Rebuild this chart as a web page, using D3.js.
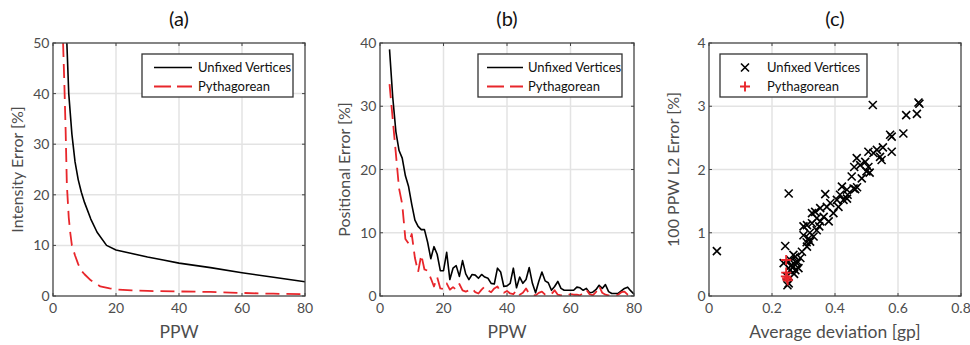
<!DOCTYPE html>
<html lang="en">
<head>
<meta charset="utf-8">
<script src="https://d3js.org/d3.v7.min.js"></script>
<style>
  body { margin: 0; background: #fff; }
  svg text { font-family: Lato, "Open Sans", sans-serif; }
</style>
</head>
<body>
<svg id="chart" width="970" height="345"></svg>
<script>
// ---- data ----
// (a) intensity error vs PPW
const aUnfixedX = [4.4, 5, 6, 7, 8, 9, 10, 12, 14, 17, 20, 25, 30, 35, 40, 50, 60, 70, 80];
const aUnfixedY = [50, 40, 32, 26.5, 23, 20.5, 18.5, 15.2, 12.6, 10, 9.1, 8.4, 7.7, 7.1, 6.5, 5.6, 4.6, 3.7, 2.8];
const aPythX = [3.2, 3.6, 4, 4.4, 5, 5.5, 6, 7, 8, 9, 10, 12, 15, 18, 20, 25, 30, 40, 50, 60, 70, 80];
const aPythY = [50, 42, 33, 22, 15.5, 12.4, 10, 8, 6.3, 5, 4.3, 3.1, 1.9, 1.5, 1.3, 1.1, 1.0, 0.9, 0.8, 0.6, 0.45, 0.35];

// (b) positional error, PPW 3..80
const bPPW = d3.range(3, 81);
const bUnfixed = [39, 31.5, 26, 23, 21.8, 19, 17.3, 14.5, 12, 11, 10.5, 10.5, 8.5, 5.9, 7.8, 6.6, 4, 4,
  6.9, 2.6, 4.4, 4.8, 3.1, 5.6, 3.5, 2.6, 3.4, 3.3, 2.8, 3.4, 3.0, 2.8, 2.0, 1.9, 4.4, 3.8, 1.5, 1.6,
  2.0, 4.4, 1.3, 3.0, 2.0, 2.6, 4.5, 2.0, 0.5, 2.3, 3.8, 2.4, 2.1, 0.9, 1.5, 2.3, 1.2, 0.9, 0.9, 0.9,
  0.9, 1.4, 1.3, 0.9, 1.2, 0.5, 0.6, 1.0, 1.7, 1.2, 1.8, 0.7, 0.4, 0.4, 0.4, 0.8, 1.2, 1.4, 0.8, 0.3];
const bPyth = [33.5, 28, 22.5, 17, 14.5, 9, 8.3, 9.8, 6, 3.8, 6.5, 4.2, 4, 2.8, 1.5, 3, 1.2, 1.1,
  2.0, 1.0, 1.4, 1.0, 1.9, 0.9, 0.7, 0.9, 1.2, 0.6, 0.4, 1.0, 1.5, 0.9, 0.6, 1.2, 1.5, 0.6, 0.5, 0.8,
  0.4, 0.3, 0.9, 0.2, 0.5, 1.2, 0.3, 0.2, 0.1, 0.5, 0.7, 0.2, 0.1, 0.3, 0.9, 0.2, 0.1, 0.2, 0.1, 0.3,
  0.2, 0.2, 0.1, 0.5, 1.0, 0.3, 0.1, 0.6, 1.6, 0.5, 0.2, 0.1, 0.1, 0.1, 0.2, 0.6, 0.7, 0.2, 0.1, 0.1];

// (c) 100 PPW L2 error vs average deviation
const cUnfixedDev = [0.025, 0.253, 0.242, 0.52, 0.665, 0.668, 0.66, 0.626, 0.617, 0.575, 0.58, 0.58,
  0.548, 0.543, 0.552, 0.533, 0.506, 0.522, 0.5, 0.506, 0.496, 0.48, 0.469, 0.461, 0.485, 0.453, 0.459,
  0.438, 0.464, 0.422, 0.416, 0.406, 0.427, 0.411, 0.438, 0.369, 0.385, 0.374, 0.364, 0.38, 0.353, 0.342,
  0.327, 0.327, 0.311, 0.30, 0.30, 0.316, 0.321, 0.332, 0.342, 0.311, 0.295, 0.29, 0.279, 0.268, 0.258,
  0.274, 0.284, 0.258, 0.247, 0.253, 0.249, 0.237, 0.263, 0.274, 0.353, 0.337, 0.395, 0.51, 0.47, 0.44,
  0.265, 0.27, 0.26, 0.28, 0.31, 0.32, 0.35];
const cUnfixedErr = [0.71, 1.62, 0.79, 3.02, 3.06, 3.04, 2.88, 2.86, 2.57, 2.55, 2.52, 2.28,
  2.15, 2.2, 2.35, 2.31, 2.28, 2.26, 1.97, 2.04, 2.12, 2.07, 2.18, 2.04, 1.86, 1.89, 1.70,
  1.68, 1.69, 1.73, 1.60, 1.52, 1.52, 1.41, 1.54, 1.61, 1.47, 1.41, 1.25, 1.18, 1.18, 1.23,
  1.31, 1.15, 1.12, 1.10, 0.96, 0.91, 0.86, 0.94, 1.04, 0.78, 0.70, 0.60, 0.52, 0.65, 0.57,
  0.41, 0.44, 0.41, 0.31, 0.20, 0.17, 0.52, 0.49, 0.62, 1.39, 1.33, 1.31, 1.95, 1.72, 1.6,
  0.45, 0.35, 0.48, 0.55, 0.85, 1.0, 1.1];
const cPythDev = [0.245, 0.245, 0.248, 0.25, 0.244];
const cPythErr = [0.57, 0.37, 0.28, 0.25, 0.31];

const titles = ["(a)", "(b)", "(c)"];
const yLabels = ["Intensity Error [%]", "Positional Error [%]", "100 PPW L2 Error [%]"];
const xLabels = ["PPW", "PPW", "Average deviation [gp]"];
const legendNames = ["Unfixed Vertices", "Pythagorean"];

const RED = "#e8262b";
const svg = d3.select("#chart");

const panels = [
  { left: 53, right: 305, xDom: [0, 80], yDom: [0, 50], xt: [0, 20, 40, 60, 80], yt: [0, 10, 20, 30, 40, 50], fmt: d3.format("d") },
  { left: 380, right: 634, xDom: [0, 80], yDom: [0, 40], xt: [0, 20, 40, 60, 80], yt: [0, 10, 20, 30, 40], fmt: d3.format("d") },
  { left: 709, right: 961, xDom: [0, 0.8], yDom: [0, 4], xt: [0, 0.2, 0.4, 0.6, 0.8], yt: [0, 1, 2, 3, 4], fmt: d => d === 0 ? "0" : d3.format("")(d) }
];
const plotTop = 43, plotBottom = 296;

panels.forEach((p, i) => {
  p.x = d3.scaleLinear().domain(p.xDom).range([p.left, p.right]);
  p.y = d3.scaleLinear().domain(p.yDom).range([plotBottom, plotTop]);
  const g = svg.append("g");
  p.g = g;

  // grid
  g.append("g").selectAll("line").data(p.xt.slice(1, -1)).join("line")
    .attr("x1", d => p.x(d)).attr("x2", d => p.x(d)).attr("y1", plotTop).attr("y2", plotBottom)
    .attr("stroke", "#e3e3e3").attr("stroke-width", 1.5);
  g.append("g").selectAll("line").data(p.yt.slice(1, -1)).join("line")
    .attr("y1", d => p.y(d)).attr("y2", d => p.y(d)).attr("x1", p.left).attr("x2", p.right)
    .attr("stroke", "#e3e3e3").attr("stroke-width", 1.5);

  // tick labels
  g.append("g").selectAll("text").data(p.xt).join("text")
    .attr("x", d => p.x(d)).attr("y", 312.5).attr("text-anchor", "middle")
    .attr("font-size", 14).attr("fill", "#4d4d4d").text(p.fmt);
  g.append("g").selectAll("text").data(p.yt).join("text")
    .attr("x", p.left - 3.5).attr("y", d => p.y(d) + 5).attr("text-anchor", "end")
    .attr("font-size", 14).attr("fill", "#4d4d4d").text(p.fmt);

  // labels
  svg.append("text").attr("x", (p.left + p.right) / 2).attr("y", 26).attr("text-anchor", "middle")
    .attr("font-size", 20).attr("fill", "#111").text(titles[i]);
  svg.append("text").attr("x", (p.left + p.right) / 2).attr("y", 337.5).attr("text-anchor", "middle")
    .attr("font-size", 17.5).attr("fill", "#4d4d4d").text(xLabels[i]);
  svg.append("text").attr("transform", `translate(${p.left - 30},${(plotTop + plotBottom) / 2}) rotate(-90)`)
    .attr("text-anchor", "middle").attr("font-size", 16).attr("fill", "#4d4d4d").text(yLabels[i]);
});

function frame(p) {
  const g = p.g;
  const tl = 3;
  const t = g.append("g").attr("stroke", "#444").attr("stroke-width", 1);
  p.xt.forEach(d => {
    t.append("line").attr("x1", p.x(d)).attr("x2", p.x(d)).attr("y1", plotBottom).attr("y2", plotBottom - tl);
    t.append("line").attr("x1", p.x(d)).attr("x2", p.x(d)).attr("y1", plotTop).attr("y2", plotTop + tl);
  });
  p.yt.forEach(d => {
    t.append("line").attr("y1", p.y(d)).attr("y2", p.y(d)).attr("x1", p.left).attr("x2", p.left + tl);
    t.append("line").attr("y1", p.y(d)).attr("y2", p.y(d)).attr("x1", p.right).attr("x2", p.right - tl);
  });
  g.append("rect").attr("x", p.left).attr("y", plotTop).attr("width", p.right - p.left).attr("height", plotBottom - plotTop)
    .attr("fill", "none").attr("stroke", "#444").attr("stroke-width", 1.3);
}

// clip paths
panels.forEach((p, i) => {
  svg.append("clipPath").attr("id", "clip" + i).append("rect")
    .attr("x", p.left).attr("y", plotTop).attr("width", p.right - p.left).attr("height", plotBottom - plotTop);
});

function drawLine(p, i, xs, ys, color, dash) {
  const line = d3.line().x(d => p.x(d[0])).y(d => p.y(d[1]));
  p.g.append("path").datum(d3.zip(xs, ys)).attr("d", line)
    .attr("fill", "none").attr("stroke", color).attr("stroke-width", dash ? 1.8 : 1.6)
    .attr("stroke-dasharray", dash ? "14,7" : null).attr("stroke-linejoin", "round")
    .attr("clip-path", `url(#clip${i})`);
}

drawLine(panels[0], 0, aUnfixedX, aUnfixedY, "#000", false);
drawLine(panels[0], 0, aPythX, aPythY, RED, true);
drawLine(panels[1], 1, bPPW, bUnfixed, "#000", false);
drawLine(panels[1], 1, bPPW, bPyth, RED, true);

// scatter
const pc = panels[2];
function xMark(g, cx, cy) {
  const s = 4;
  g.append("path").attr("d", `M${cx - s},${cy - s}L${cx + s},${cy + s}M${cx - s},${cy + s}L${cx + s},${cy - s}`)
    .attr("stroke", "#000").attr("stroke-width", 1.6).attr("fill", "none");
}
function plusMark(g, cx, cy) {
  const s = 5;
  g.append("path").attr("d", `M${cx - s},${cy}L${cx + s},${cy}M${cx},${cy - s}L${cx},${cy + s}`)
    .attr("stroke", RED).attr("stroke-width", 1.9).attr("fill", "none");
}
const sg = pc.g.append("g");
d3.zip(cUnfixedDev, cUnfixedErr).forEach(d => xMark(sg, pc.x(d[0]), pc.y(d[1])));
d3.zip(cPythDev, cPythErr).forEach(d => plusMark(sg, pc.x(d[0]), pc.y(d[1])));

panels.forEach(frame);

// legends
function legendBox(x0, y0, w, h) {
  svg.append("rect").attr("x", x0).attr("y", y0).attr("width", w).attr("height", h)
    .attr("fill", "#fff").attr("stroke", "#333").attr("stroke-width", 1.3);
}
function lineLegend(x0, w, sx1, sx2, tx) {
  legendBox(x0, 54, w, 43);
  svg.append("line").attr("x1", sx1).attr("x2", sx2).attr("y1", 67.5).attr("y2", 67.5)
    .attr("stroke", "#000").attr("stroke-width", 1.6);
  svg.append("line").attr("x1", sx1).attr("x2", sx2).attr("y1", 86.5).attr("y2", 86.5)
    .attr("stroke", RED).attr("stroke-width", 1.8).attr("stroke-dasharray", "17,6");
  legendNames.forEach((n, k) => svg.append("text").attr("x", tx).attr("y", 72 + k * 19)
    .attr("font-size", 13).attr("fill", "#111").text(n));
}
lineLegend(142, 151, 154, 192, 198);
lineLegend(478, 144, 487, 523, 528);

legendBox(720, 54, 147, 43);
xMark(svg, 745, 67.5);
plusMark(svg, 745, 86.5);
legendNames.forEach((n, k) => svg.append("text").attr("x", 767).attr("y", 72 + k * 19)
  .attr("font-size", 13).attr("fill", "#111").text(n));
</script>
</body>
</html>
